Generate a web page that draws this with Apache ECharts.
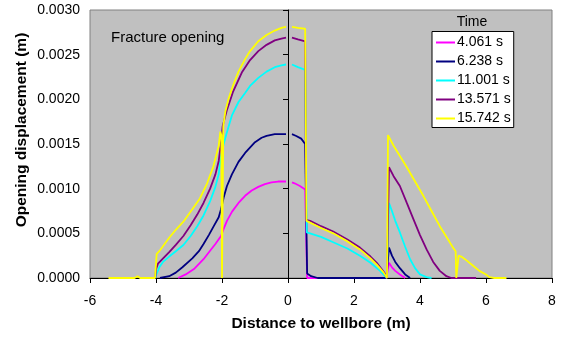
<!DOCTYPE html>
<html><head><meta charset="utf-8">
<script src="https://cdn.jsdelivr.net/npm/echarts@6/dist/echarts.min.js"></script>
<style>html,body{margin:0;padding:0;background:#fff}#c{width:568px;height:337px}</style>
</head><body><div id="c"></div>
<script>
const FONT = 'Liberation Sans, Arial, sans-serif';
const seriesNames = ['4.061 s', '6.238 s', '11.001 s', '13.571 s', '15.742 s'];
const seriesColors = ['#FF00FF', '#000080', '#00FFFF', '#800080', '#FFFF00'];
const xTicks = [-6, -4, -2, 0, 2, 4, 6, 8];
const yTicks = [0, 0.0005, 0.001, 0.0015, 0.002, 0.0025, 0.003];
// '-' marks a gap in the curve
const t4061 = [[-3.33,0],[-3.1,0.00004],[-2.85,0.0001],[-2.56,0.00021],[-2.35,0.00031],[-2.2,0.00038],[-2.03,0.00047],[-1.95,0.00055],[-1.85,0.00064],[-1.7,0.00074],[-1.5,0.00084],[-1.3,0.00092],[-1.1,0.00098],[-0.9,0.00102],[-0.7,0.00105],[-0.5,0.00107],[-0.3,0.00108],[-0.06,0.00108],[0.03,'-'],[0.12,0.00107],[0.2,0.00106],[0.36,0.00103],[0.52,0.00099],[0.58,0],[2.98,0],[3.03,0],[3.06,0.00017],[3.15,0.00012],[3.25,0.00008],[3.39,0.00004],[3.55,0]];
const t6238 = [[-3.88,0],[-3.6,0.00002],[-3.4,0.00006],[-3.2,0.00012],[-2.9,0.00022],[-2.7,0.0003],[-2.56,0.00038],[-2.4,0.00048],[-2.25,0.00058],[-2.1,0.00068],[-2.03,0.00077],[-1.95,0.0009],[-1.85,0.00103],[-1.7,0.00116],[-1.5,0.0013],[-1.3,0.0014],[-1.0,0.00152],[-0.8,0.00157],[-0.65,0.00159],[-0.4,0.00161],[-0.06,0.00161],[0.03,'-'],[0.12,0.00161],[0.25,0.00159],[0.4,0.00156],[0.52,0.0015],[0.58,0.00005],[0.7,0.00002],[0.9,0],[2.98,0],[3.03,0],[3.06,0.00034],[3.15,0.00025],[3.25,0.00018],[3.39,0.00011],[3.55,0.00004],[3.7,0]];
const t11001 = [[-4.02,0],[-3.98,0.00005],[-3.9,0.00012],[-3.79,0.00018],[-3.6,0.00024],[-3.4,0.0003],[-3.17,0.00037],[-2.95,0.00047],[-2.75,0.00058],[-2.56,0.0007],[-2.36,0.00086],[-2.2,0.00102],[-2.1,0.00116],[-2.03,0.00138],[-1.95,0.0015],[-1.86,0.00162],[-1.7,0.00182],[-1.5,0.00197],[-1.3,0.00207],[-1.15,0.00215],[-0.9,0.00224],[-0.65,0.00231],[-0.4,0.00236],[-0.2,0.00238],[-0.06,0.00239],[0.03,'-'],[0.12,0.00239],[0.3,0.00236],[0.52,0.00233],[0.57,0.00051],[0.62,0.0005],[1.0,0.00046],[1.37,0.0004],[1.8,0.00033],[2.18,0.00025],[2.5,0.00017],[2.79,0.00008],[2.99,0],[3.03,0],[3.06,0.00084],[3.15,0.00075],[3.25,0.00064],[3.39,0.00051],[3.55,0.00035],[3.7,0.00021],[3.85,0.00011],[4.0,0.00004],[4.2,0.00001],[4.35,0]];
const t13571 = [[-4.02,0],[-4.0,0.0001],[-3.94,0.00016],[-3.6,0.00029],[-3.4,0.00037],[-3.17,0.00047],[-2.95,0.00059],[-2.75,0.00071],[-2.56,0.00084],[-2.36,0.001],[-2.2,0.00116],[-2.1,0.00131],[-2.03,0.00151],[-1.98,0.0017],[-1.86,0.00187],[-1.66,0.00209],[-1.4,0.0023],[-1.15,0.00244],[-0.9,0.00254],[-0.65,0.00261],[-0.4,0.00266],[-0.2,0.00268],[-0.06,0.00269],[0.03,'-'],[0.12,0.00269],[0.3,0.00267],[0.52,0.00265],[0.55,0.00065],[0.67,0.00064],[1.0,0.00058],[1.37,0.00052],[1.8,0.00043],[2.18,0.00034],[2.5,0.00024],[2.69,0.00017],[2.9,0.00007],[3.0,0],[3.03,0],[3.06,0.00124],[3.2,0.00114],[3.39,0.00103],[3.6,0.00084],[3.8,0.00066],[4.0,0.00048],[4.2,0.00032],[4.4,0.00018],[4.6,0.00008],[4.8,0.00002],[4.95,0],[5.7,0]];
const t15742 = [[-5.44,0],[-4.65,0],[-4.56,0.00002],[-4.48,0],[-4.03,0],[-3.98,0.00027],[-3.9,0.0003],[-3.6,0.00045],[-3.4,0.00054],[-3.17,0.00063],[-2.9,0.00077],[-2.67,0.00089],[-2.45,0.00106],[-2.26,0.00125],[-2.1,0.00148],[-2.05,0.00164],[-2.02,0.0016],[-2.0,0],[-1.97,0],[-1.96,0.0017],[-1.9,0.00186],[-1.8,0.00201],[-1.66,0.00216],[-1.5,0.00231],[-1.3,0.00245],[-1.15,0.00254],[-0.9,0.00265],[-0.65,0.00272],[-0.4,0.00277],[-0.2,0.0028],[-0.06,0.00281],[0.03,'-'],[0.12,0.00281],[0.3,0.0028],[0.52,0.00279],[0.56,0.00064],[0.67,0.00062],[1.0,0.00056],[1.37,0.0005],[1.8,0.00041],[2.18,0.00032],[2.5,0.00022],[2.69,0.00015],[2.9,0.00006],[3.0,0],[3.03,0.0016],[3.1,0.00155],[3.2,0.00148],[3.4,0.00136],[3.6,0.00124],[3.85,0.00108],[4.1,0.00092],[4.35,0.00075],[4.6,0.00058],[4.85,0.00043],[5.0,0.00034],[5.08,0.0003],[5.1,0],[5.14,0],[5.17,0.00025],[5.25,0.00024],[5.4,0.0002],[5.6,0.00014],[5.8,0.00008],[6.0,0.00004],[6.1,0.00001],[6.15,0.00003],[6.25,0],[6.62,0]];
const seriesData = [t4061, t6238, t11001, t13571, t15742];

const chart = echarts.init(document.getElementById('c'), null, {renderer: 'canvas'});
chart.setOption({
  animation: false,
  textStyle: {fontFamily: FONT},
  grid: {left: 90, right: 16, top: 10, bottom: 58, show: true, backgroundColor: '#C0C0C0', borderColor: '#808080', borderWidth: 1},
  xAxis: {
    type: 'value', min: xTicks[0], max: xTicks[xTicks.length - 1], interval: 2,
    name: 'Distance to wellbore (m)', nameLocation: 'middle', nameGap: 38,
    nameTextStyle: {fontFamily: FONT, fontSize: 15.5, fontWeight: 'bold', color: '#000'},
    axisLine: {onZero: false, lineStyle: {color: '#000', width: 1}},
    axisTick: {show: true, inside: false, length: 5, lineStyle: {color: '#000'}},
    axisLabel: {fontFamily: FONT, fontSize: 14, color: '#000', margin: 16},
    splitLine: {show: false}
  },
  yAxis: {
    type: 'value', min: yTicks[0], max: yTicks[yTicks.length - 1], interval: 0.0005,
    axisLine: {show: true, lineStyle: {color: '#000', width: 1}},
    axisTick: {show: true, inside: false, length: 5, lineStyle: {color: '#000'}},
    axisLabel: {fontFamily: FONT, fontSize: 14, color: '#000', margin: 10, formatter: v => v.toFixed(4)},
    splitLine: {show: false}
  },
  legend: {
    orient: 'vertical', left: 432, top: 31.5,
    backgroundColor: '#fff', borderColor: '#000', borderWidth: 1, borderRadius: 0,
    padding: [2.5, 3, 0.5, 4], itemGap: 2, itemWidth: 19, itemHeight: 2,
    icon: 'rect',
    textStyle: {fontFamily: FONT, fontSize: 14, color: '#000', lineHeight: 17, padding: [0, 0, 0, -3]},
    data: seriesNames
  },
  graphic: [
    {type: 'text', x: 111, y: 38, style: {text: 'Fracture opening', font: '15px ' + FONT, fill: '#000', textAlign: 'left', textVerticalAlign: 'middle', verticalAlign: 'middle'}},
    {type: 'text', x: 472, y: 22, style: {text: 'Time', font: '14px ' + FONT, fill: '#000', textAlign: 'center', align: 'center', textVerticalAlign: 'middle', verticalAlign: 'middle'}},
    {type: 'text', x: 22, y: 130, rotation: Math.PI / 2, style: {text: 'Opening displacement (m)', font: 'bold 15.5px ' + FONT, fill: '#000', textAlign: 'center', align: 'center', textVerticalAlign: 'middle', verticalAlign: 'middle'}}
  ],
  series: seriesData.map((d, i) => ({
    name: seriesNames[i], type: 'line', data: d, showSymbol: false, symbol: 'none',
    connectNulls: false, clip: true,
    lineStyle: {color: seriesColors[i], width: 1.8}, itemStyle: {color: seriesColors[i]}
  }))
});
</script></body></html>
